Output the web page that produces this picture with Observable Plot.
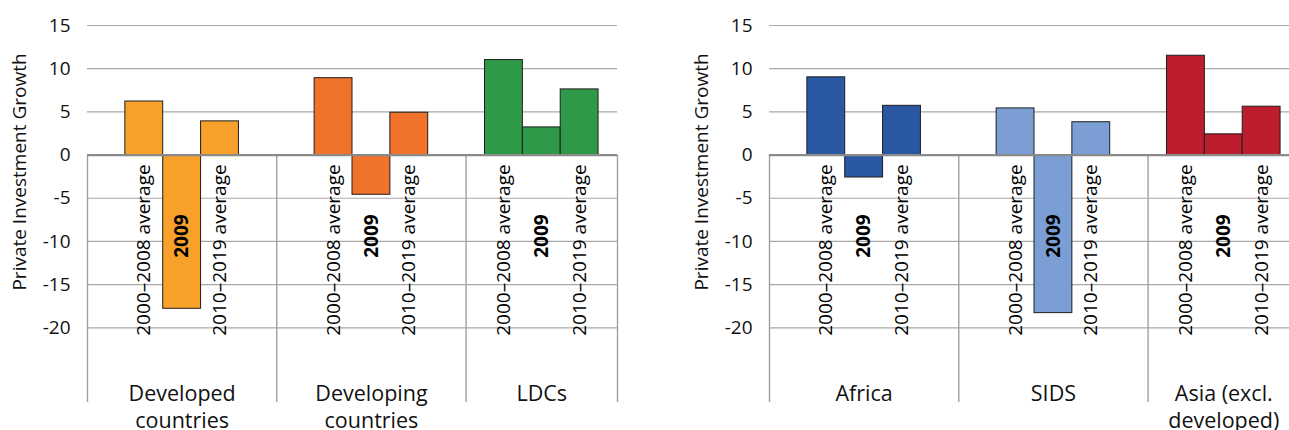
<!DOCTYPE html>
<html>
<head>
<meta charset="utf-8">
<script src="https://cdn.jsdelivr.net/npm/d3@7"></script>
<script src="https://cdn.jsdelivr.net/npm/@observablehq/plot@0.6"></script>
<style>
  html, body { margin: 0; padding: 0; background: #fff; }
  #wrap { position: relative; width: 1289px; height: 430px; overflow: hidden; }
  .panel { position: absolute; top: 0; width: 640px; height: 430px; }
  .panel svg { max-width: none !important; }
  #left { left: 0; }
  #right { left: 682px; }
</style>
</head>
<body>
<div id="wrap">
  <div id="left" class="panel"></div>
  <div id="right" class="panel"></div>
</div>
<script>
// ---- data ----
const periods = ["2000–2008 average", "2009", "2010–2019 average"];
const groupsLeft = ["Developed\ncountries", "Developing\ncountries", "LDCs"];
const groupsRight = ["Africa", "SIDS", "Asia (excl.\ndeveloped)"];
const developed = [6.2, -17.8, 3.9];
const developing = [8.9, -4.6, 4.9];
const ldcs = [11.0, 3.2, 7.6];
const africa = [9.0, -2.6, 5.7];
const sids = [5.4, -18.3, 3.8];
const asia = [11.5, 2.4, 5.6];
const colorsLeft = ["#F7A12B", "#F1722B", "#2E9A48"];
const colorsRight = ["#2B58A3", "#7B9ED4", "#BD1E2E"];
const yTicks = [15, 10, 5, 0, -5, -10, -15, -20];
const yLabel = "Private Investment Growth";

// ---- layout (in bar-width units) ----
const groupStart = [0, 5, 10];
const groupWidth = [5, 5, 4];
const yMin = -28.65;
const FONT = "'Open Sans', sans-serif";

function panel(groups, series, colors) {
  const rows = [];
  groups.forEach((g, gi) => {
    periods.forEach((p, pi) => {
      const x1 = groupStart[gi] + (groupWidth[gi] - 3) / 2 + pi;
      rows.push({group: g, period: p, pi, value: series[gi][pi], color: colors[gi], x1, x2: x1 + 1, xc: x1 + 0.5});
    });
  });
  const groupRows = groups.map((g, gi) => ({label: g, xc: groupStart[gi] + groupWidth[gi] / 2}));
  const bounds = [0, ...groupStart.slice(1), groupStart[2] + groupWidth[2]];
  return Plot.plot({
    width: 640,
    height: 430,
    marginTop: 25,
    marginBottom: 28,
    marginLeft: 87,
    marginRight: 23,
    style: {fontFamily: FONT, fontSize: "19px", color: "#111", background: "#fff", maxWidth: "none"},
    x: {domain: [0, 14], axis: null},
    y: {domain: [yMin, 15], axis: null},
    color: {type: "identity"},
    marks: [
      Plot.ruleY(yTicks.filter(t => t !== 0), {stroke: "#a8a8a8", strokeWidth: 1.2}),
      Plot.ruleX(bounds, {y1: 0, y2: yMin, stroke: "#a0a0a0", strokeWidth: 1.4}),
      Plot.rectY(rows, {x1: "x1", x2: "x2", y1: 0, y2: "value", fill: "color", stroke: "#1e1e1e", strokeWidth: 1}),
      Plot.ruleY([0], {stroke: "#8a8a8a", strokeWidth: 2.2}),
      Plot.axisY(yTicks, {tickSize: 0, tickPadding: 17, fontSize: 19, fill: "#111", label: null, tickFormat: d => String(d)}),
      Plot.text([yLabel], {frameAnchor: "left", textAnchor: "middle", rotate: -90, dx: -68, dy: -42, fontSize: 19, fill: "#111"}),
      Plot.text(rows.filter(d => d.pi !== 1), {x: "xc", y: 0, text: "period", rotate: -90, dy: 95, fontSize: 19, fill: "#000"}),
      Plot.text(rows.filter(d => d.pi === 1), {x: "xc", y: 0, text: "period", rotate: -90, dy: 81, fontSize: 19, fontWeight: "bold", fill: "#000"}),
      Plot.text(groupRows, {x: "xc", frameAnchor: "bottom", text: "label", lineAnchor: "top", dy: -20.5, fontSize: 21.5, lineHeight: 1.24, fill: "#111"})
    ]
  });
}

document.getElementById("left").appendChild(panel(groupsLeft, [developed, developing, ldcs], colorsLeft));
document.getElementById("right").appendChild(panel(groupsRight, [africa, sids, asia], colorsRight));
</script>
</body>
</html>
